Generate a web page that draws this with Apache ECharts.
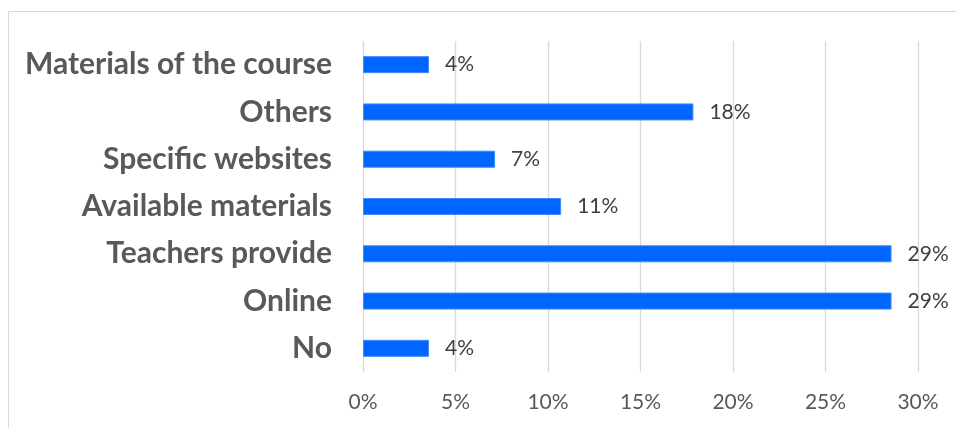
<!DOCTYPE html>
<html>
<head>
<meta charset="utf-8">
<script src="https://cdn.jsdelivr.net/npm/echarts@6/dist/echarts.min.js"></script>
<style>
  html, body { margin: 0; padding: 0; background: #ffffff; }
  #chart { width: 956px; height: 428px; }
</style>
</head>
<body>
<div id="chart"></div>
<script>
// Where students get their learning materials (share of 28 responses)
var categories = ['No', 'Online', 'Teachers provide', 'Available materials', 'Specific websites', 'Others', 'Materials of the course'];
var shares = [0.0357, 0.2857, 0.2857, 0.1071, 0.0714, 0.1786, 0.0357];
var tickValues = [0, 0.05, 0.10, 0.15, 0.20, 0.25, 0.30];

var chart = echarts.init(document.getElementById('chart'), null, { renderer: 'canvas' });

chart.setOption({
  animation: false,
  backgroundColor: '#ffffff',
  graphic: [{
    type: 'rect',
    shape: { x: 8.5, y: 11.5, width: 1000, height: 500 },
    style: { fill: 'none', stroke: '#d9d9d9', lineWidth: 1 },
    silent: true
  }],
  grid: { left: 363, right: 38, top: 41, bottom: 56, containLabel: false },
  xAxis: {
    type: 'value',
    min: tickValues[0],
    max: tickValues[tickValues.length - 1],
    interval: 0.05,
    axisLine: { show: false },
    axisTick: { show: false },
    splitLine: { show: true, lineStyle: { color: '#d9d9d9', width: 1.3 } },
    axisLabel: {
      margin: 20,
      color: '#595959',
      fontFamily: 'Lato',
      fontSize: 21,
      formatter: function (v) { return Math.round(v * 100) + '%'; }
    }
  },
  yAxis: {
    type: 'category',
    data: categories,
    axisLine: { show: false },
    axisTick: { show: false },
    axisLabel: {
      margin: 31,
      color: '#595959',
      fontFamily: 'Lato',
      fontWeight: 'bold',
      fontSize: 30
    }
  },
  series: [{
    type: 'bar',
    data: shares,
    barWidth: 17,
    itemStyle: { color: '#0066ff', borderColor: '#3d8bff', borderWidth: 1 },
    label: {
      show: true,
      position: 'right',
      distance: 16,
      color: '#404040',
      fontFamily: 'Lato',
      fontSize: 21,
      formatter: function (p) { return Math.round(p.value * 100) + '%'; }
    }
  }]
});
</script>
</body>
</html>
